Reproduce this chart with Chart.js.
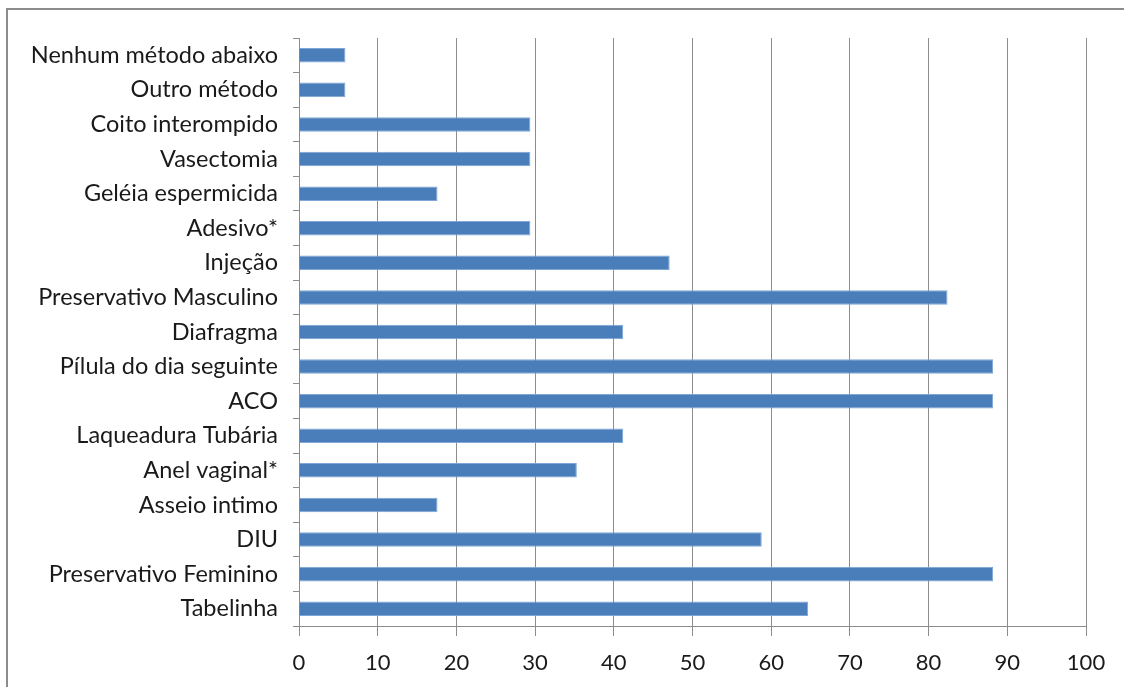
<!DOCTYPE html>
<html>
<head>
<meta charset="utf-8">
<script src="https://cdn.jsdelivr.net/npm/chart.js@4/dist/chart.umd.min.js"></script>
<style>
  html, body { margin: 0; padding: 0; background: #fff; }
  #wrap { position: relative; width: 1124px; height: 687px; overflow: hidden; }
  #frame { position: absolute; left: 6px; top: 8px; width: 1140px; height: 700px; border: 2px solid #8c8c8c; box-sizing: border-box; }
  #chart { position: absolute; left: 0; top: 0; }
</style>
</head>
<body>
<div id="wrap">
  <div id="frame"></div>
  <canvas id="chart" width="1124" height="687"></canvas>
</div>
<script>
const categories = [
    'Nenhum método abaixo',
    'Outro método',
    'Coito interompido',
    'Vasectomia',
    'Geléia espermicida',
    'Adesivo*',
    'Injeção',
    'Preservativo Masculino',
    'Diafragma',
    'Pílula do dia seguinte',
    'ACO',
    'Laqueadura Tubária',
    'Anel vaginal*',
    'Asseio intimo',
    'DIU',
    'Preservativo Feminino',
    'Tabelinha'
];
const values = [5.9, 5.9, 29.4, 29.4, 17.6, 29.4, 47.1, 82.4, 41.2, 88.2, 88.2, 41.2, 35.3, 17.6, 58.8, 88.2, 64.7];
const xMin = 0;
const xMax = 100;
const xStep = 10;

const fontFamily = 'Lato, "Open Sans", sans-serif';

const ctx = document.getElementById('chart').getContext('2d');
new Chart(ctx, {
    type: 'bar',
    data: {
        labels: categories,
        datasets: [{
            data: values,
            backgroundColor: '#4a7ebb',
            borderColor: '#7fa6d6',
            borderWidth: 1,
            barPercentage: 0.42,
            categoryPercentage: 1
        }]
    },
    options: {
        indexAxis: 'y',
        responsive: false,
        animation: false,
        layout: { padding: { top: 38, right: 38, left: 0, bottom: 0 } },
        plugins: { legend: { display: false }, tooltip: { enabled: false } },
        scales: {
            x: {
                min: xMin,
                max: xMax,
                ticks: { stepSize: xStep, color: '#1a1a1a', font: { family: fontFamily, size: 22 }, padding: 14 },
                grid: { color: '#8c8c8c', lineWidth: 1, tickLength: 10, drawTicks: true },
                border: { color: '#8c8c8c', width: 1 },
                afterFit: scale => { scale.height = 61; }
            },
            y: {
                ticks: { color: '#1a1a1a', font: { family: fontFamily, size: 23.5 }, padding: 15, autoSkip: false },
                grid: { display: true, drawOnChartArea: false, offset: true, color: '#8c8c8c', tickLength: 6 },
                border: { color: '#8c8c8c', width: 1 },
                afterFit: scale => { scale.width = 299; }
            }
        }
    }
});
</script>
</body>
</html>
